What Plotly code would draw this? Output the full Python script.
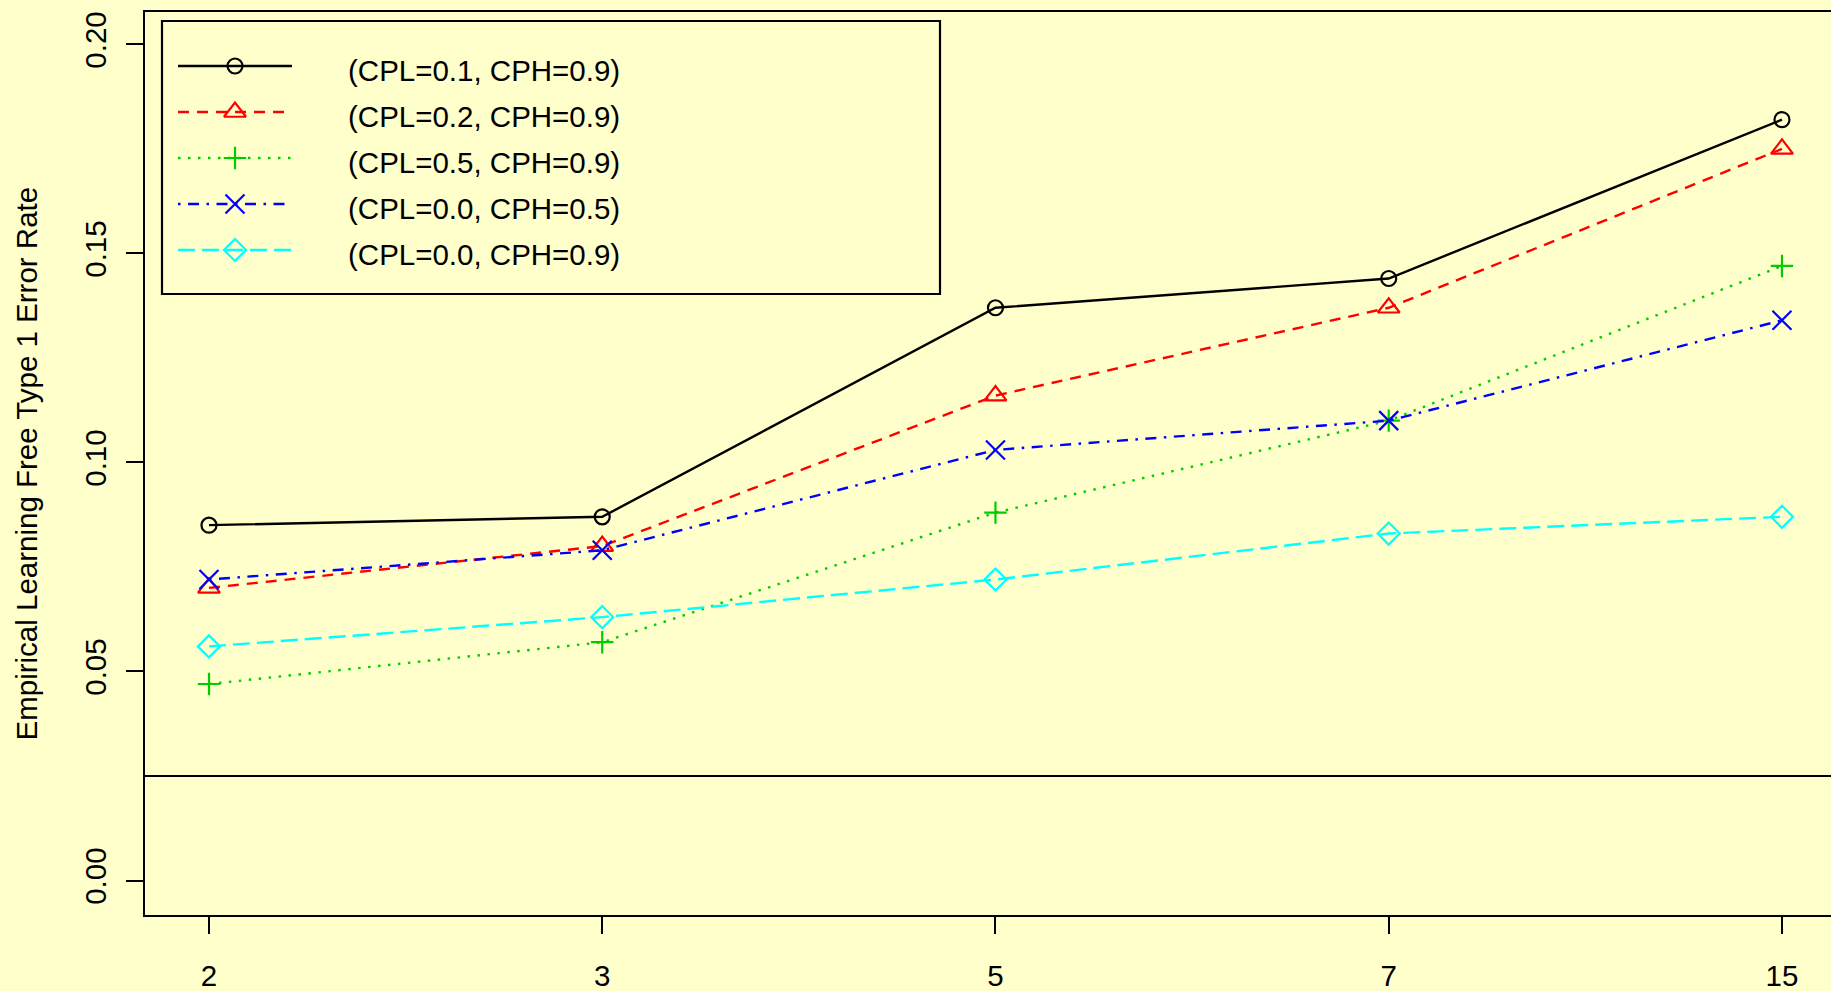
import plotly.graph_objects as go

# ---------------- data ----------------
x_labels = ["2", "3", "5", "7", "15"]
x_index = [1, 2, 3, 4, 5]

cpl01_cph09 = [0.085, 0.087, 0.137, 0.144, 0.182]
cpl02_cph09 = [0.070, 0.080, 0.116, 0.137, 0.175]
cpl05_cph09 = [0.047, 0.057, 0.088, 0.110, 0.147]
cpl00_cph05 = [0.072, 0.079, 0.103, 0.110, 0.134]
cpl00_cph09 = [0.056, 0.063, 0.072, 0.083, 0.087]

series_names = [
    "(CPL=0.1, CPH=0.9)",
    "(CPL=0.2, CPH=0.9)",
    "(CPL=0.5, CPH=0.9)",
    "(CPL=0.0, CPH=0.5)",
    "(CPL=0.0, CPH=0.9)",
]
series_values = [cpl01_cph09, cpl02_cph09, cpl05_cph09, cpl00_cph05, cpl00_cph09]

nominal_level = 0.025

y_tick_values = [0.00, 0.05, 0.10, 0.15, 0.20]
y_tick_labels = ["0.00", "0.05", "0.10", "0.15", "0.20"]

y_title = "Empirical Learning Free Type 1 Error Rate"

# ---------------- styles ----------------
colors = ["#000000", "#FF0000", "#00CD00", "#0000FF", "#00FFFF"]
dashes = ["solid", "11px,8px", "2.5px,7.5px", "2.5px,7.5px,11px,7.5px", "17px,7px"]
symbols = ["circle-open", "triangle-up-open", "cross-thin-open", "x-thin-open", "diamond-open"]
sizes = [15, 19, 16, 19, 17]
LW = 2.4

BG = "#FFFFCC"
FONT = "Liberation Sans, Arial, sans-serif"
FS = 29.5

W, H = 1831, 991
L, R, T, B = 145, 0, 12, 76

fig = go.Figure()

for name, vals, c, d, s, sz in zip(series_names, series_values, colors, dashes, symbols, sizes):
    fig.add_trace(go.Scatter(
        x=x_index, y=vals, name=name, mode="lines+markers",
        line=dict(color=c, width=LW, dash=d),
        marker=dict(symbol=s, size=sz, color=c, line=dict(color=c, width=2.2)),
        showlegend=False, cliponaxis=False,
    ))

# nominal level reference line
fig.add_hline(y=nominal_level, line=dict(color="black", width=2.2))

# ---------------- custom R-style legend (pixel coordinate overlay axes) ----------------
leg_x0, leg_x1, leg_y0, leg_y1 = 162, 940, 21, 294
row_y0, row_step = 66, 46
seg_x0, seg_x1, mark_x, text_x = 178, 292, 235, 346

fig.add_shape(type="rect", xref="x2", yref="y2", x0=leg_x0, x1=leg_x1, y0=leg_y0, y1=leg_y1,
              line=dict(color="black", width=2.2), fillcolor="rgba(0,0,0,0)", layer="above")

for i, (name, c, d, s, sz) in enumerate(zip(series_names, colors, dashes, symbols, sizes)):
    yy = row_y0 + row_step * i
    fig.add_trace(go.Scatter(
        x=[seg_x0, seg_x1], y=[yy, yy], mode="lines", xaxis="x2", yaxis="y2",
        line=dict(color=c, width=LW, dash=d), showlegend=False, hoverinfo="skip",
    ))
    fig.add_trace(go.Scatter(
        x=[mark_x], y=[yy], mode="markers", xaxis="x2", yaxis="y2",
        marker=dict(symbol=s, size=sz, color=c, line=dict(color=c, width=2.2)),
        showlegend=False, hoverinfo="skip",
    ))
    fig.add_annotation(x=text_x, y=yy + 4, xref="x2", yref="y2", text=name,
                       showarrow=False, xanchor="left", yanchor="middle",
                       font=dict(family=FONT, size=FS, color="black"))

# y-axis title
plot_w = W - L - R
fig.add_annotation(x=(26 - L) / plot_w, y=0.5, xref="paper", yref="paper",
                   text=y_title, textangle=-90, showarrow=False,
                   xanchor="center", yanchor="middle",
                   font=dict(family=FONT, size=FS, color="black"))

fig.update_layout(
    width=W, height=H,
    margin=dict(l=L, r=R, t=T, b=B, pad=0, autoexpand=False),
    paper_bgcolor=BG, plot_bgcolor=BG,
    font=dict(family=FONT, size=FS, color="black"),
    xaxis=dict(
        range=[0.8373, 5.1247], tickmode="array", tickvals=x_index, ticktext=x_labels,
        showline=True, mirror=True, linecolor="black", linewidth=2.2,
        ticks="outside", ticklen=17, tickwidth=1.8, tickcolor="black",
        showgrid=False, zeroline=False, ticklabelstandoff=16, automargin=False,
        tickfont=dict(family=FONT, size=FS, color="black"),
    ),
    yaxis=dict(
        range=[-0.00825, 0.20775], tickmode="array", tickvals=y_tick_values, ticktext=y_tick_labels,
        tickangle=-90, showline=True, mirror=False, linecolor="black", linewidth=2.2,
        ticks="outside", ticklen=17, tickwidth=1.8, tickcolor="black",
        showgrid=False, zeroline=False, ticklabelstandoff=8, automargin=False,
        tickfont=dict(family=FONT, size=FS, color="black"),
    ),
    xaxis2=dict(overlaying="x", anchor="y2", range=[L, W - R], visible=False,
                fixedrange=True, automargin=False),
    yaxis2=dict(overlaying="y", anchor="x2", range=[H - B, T], visible=False,
                fixedrange=True, automargin=False),
)

fig.write_html(
    "out.html",
    config={"displayModeBar": False},
    post_script="document.body.style.margin='0';document.body.style.overflow='hidden';",
)
